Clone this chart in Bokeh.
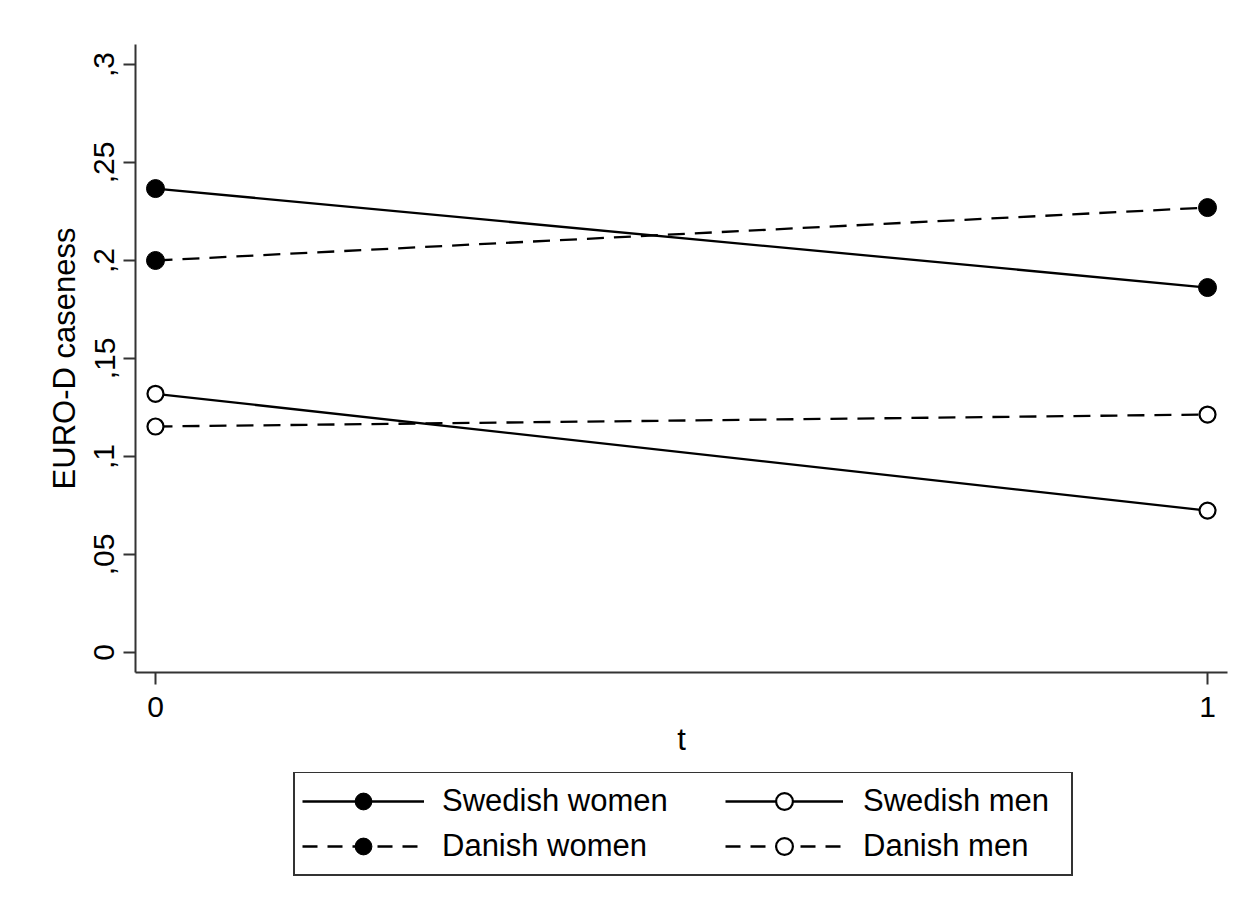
from bokeh.plotting import figure
from bokeh.models import Legend, LegendItem, FixedTicker, Range1d
from bokeh.layouts import column
from bokeh.embed import file_html
from bokeh.resources import INLINE

# ---- data ----
t_values = [0, 1]
swedish_women = [0.2367, 0.1862]
danish_women = [0.2000, 0.2270]
swedish_men = [0.1320, 0.0724]
danish_men = [0.1153, 0.1214]

x_ticks = [0, 1]
y_ticks = [0, 0.05, 0.1, 0.15, 0.2, 0.25, 0.3]
y_tick_labels = ["0", ",05", ",1", ",15", ",2", ",25", ",3"]

FONT = "Liberation Sans"
INK = "#000000"
AXC = "#333333"
LW = 2.3
DASH = "17 10"

p = figure(width=1241, height=772, output_backend="svg", toolbar_location=None,
           x_range=Range1d(-0.019, 1.019), y_range=Range1d(-0.0102, 0.3102),
           min_border_left=135, min_border_top=44, min_border_right=14, min_border_bottom=100)
p.outline_line_color = None
p.background_fill_color = "white"
p.border_fill_color = "white"
p.grid.visible = False

for ax in (p.xaxis[0], p.yaxis[0]):
    ax.axis_line_color = AXC
    ax.axis_line_width = 2
    ax.major_tick_line_color = AXC
    ax.major_tick_line_width = 2
    ax.major_tick_out = 12
    ax.major_tick_in = 0
    ax.minor_tick_line_color = None
    ax.major_label_text_font = FONT
    ax.major_label_text_font_size = "30px"
    ax.major_label_text_color = INK
    ax.axis_label_text_font = FONT
    ax.axis_label_text_font_size = "31px"
    ax.axis_label_text_font_style = "normal"
    ax.axis_label_text_color = INK

p.xaxis.ticker = FixedTicker(ticks=x_ticks)
p.xaxis.axis_label = "t"
p.xaxis.major_label_standoff = 12
p.xaxis.axis_label_standoff = 2

p.yaxis.ticker = FixedTicker(ticks=y_ticks)
p.yaxis.major_label_overrides = {v: s for v, s in zip(y_ticks, y_tick_labels)}
p.yaxis.major_label_orientation = "vertical"
p.yaxis.major_label_standoff = 9
p.yaxis.axis_label = "EURO-D caseness"
p.yaxis.axis_label_standoff = 10

series = [
    ("Swedish women", swedish_women, None, INK, 18),
    ("Danish women", danish_women, DASH, INK, 18),
    ("Swedish men", swedish_men, None, "white", 16),
    ("Danish men", danish_men, DASH, "white", 16),
]

for name, vals, dash, fill, size in series:
    kw = {} if dash is None else {"line_dash": dash}
    p.line(t_values, vals, line_color=INK, line_width=LW, **kw)
    p.scatter(t_values, vals, size=size, marker="circle", fill_color=fill,
              line_color=INK, line_width=2.2 if fill == "white" else 1)

# ---- legend strip (separate canvas so the legend is not clipped) ----
# its own copies of the series sit outside its visible range; only the legend shows
p2 = figure(width=1241, height=128, output_backend="svg", toolbar_location=None,
            x_axis_location=None, y_axis_location=None, min_border=0,
            x_range=Range1d(0, 1), y_range=Range1d(5, 6))
p2.outline_line_color = None
p2.grid.visible = False
p2.background_fill_color = "white"
p2.border_fill_color = "white"

leg_items = {}
for name, vals, dash, fill, size in series:
    kw = {} if dash is None else {"line_dash": "15 10"}
    lr = p2.line(t_values, vals, line_color=INK, line_width=LW, **kw)
    sr = p2.scatter(t_values, vals, marker="circle", fill_color=fill, line_color=INK,
                    line_width=2.2 if fill == "white" else 1)
    leg_items[name] = LegendItem(label=name, renderers=[lr, sr])

def style(leg, gw):
    leg.padding = 7
    leg.spacing = 3
    leg.margin = 0
    leg.glyph_width = gw
    leg.glyph_height = 42
    leg.label_height = 42
    leg.label_standoff = 20
    leg.label_text_font = FONT
    leg.label_text_font_size = "31px"
    leg.label_text_color = INK
    leg.label_text_baseline = "middle"

leg_a = Legend(items=[leg_items["Swedish women"], leg_items["Danish women"]], location=(158, 24))
style(leg_a, 122)
leg_a.label_standoff = 18
leg_a.label_width = 776 - 14 - 122 - 18
leg_a.border_line_color = AXC
leg_a.border_line_width = 2
leg_a.border_line_alpha = 1
leg_a.background_fill_color = "white"
leg_a.background_fill_alpha = 1

leg_b = Legend(items=[leg_items["Swedish men"], leg_items["Danish men"]], location=(590, 33))
style(leg_b, 118)
leg_b.border_line_color = None
leg_b.background_fill_alpha = 0

p2.add_layout(leg_a)
p2.add_layout(leg_b)

open("out.html", "w").write(file_html(column(p, p2), INLINE))
